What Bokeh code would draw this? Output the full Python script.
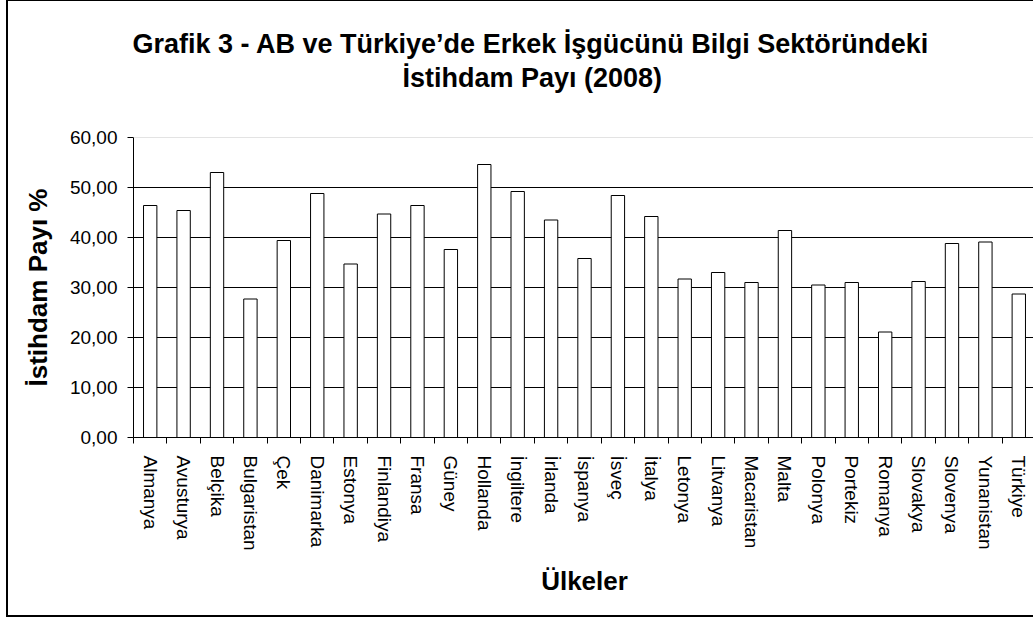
from bokeh.plotting import figure
from bokeh.models import (Range1d, FixedTicker, CustomJSTickFormatter, Span, Title,
                          LinearAxis, ColumnDataSource)
from bokeh.embed import file_html
from bokeh.resources import INLINE

countries = ["Almanya", "Avusturya", "Belçika", "Bulgaristan", "Çek", "Danimarka",
             "Estonya", "Finlandiya", "Fransa", "Güney", "Hollanda", "İngiltere",
             "İrlanda", "İspanya", "İsveç", "İtalya", "Letonya", "Litvanya",
             "Macaristan", "Malta", "Polonya", "Portekiz", "Romanya", "Slovakya",
             "Slovenya", "Yunanistan", "Türkiye"]
shares = [46.4, 45.4, 53.0, 27.7, 39.4, 48.8, 34.7, 44.7, 46.4, 37.6, 54.6, 49.2,
          43.5, 35.8, 48.4, 44.2, 31.7, 33.0, 31.0, 41.4, 30.5, 31.0, 21.1, 31.2,
          38.8, 39.1, 28.7]
y_ticks = [0, 10, 20, 30, 40, 50, 60]
title_lines = ["Grafik 3 - AB ve Türkiye’de Erkek İşgücünü Bilgi Sektöründeki",
               "İstihdam Payı (2008)"]
y_title = "İstihdam Payı %"
x_title = "Ülkeler"

FONT = "Liberation Sans"
n = len(countries)
pos = [i + 0.5 for i in range(n)]
src = ColumnDataSource(dict(x=pos, top=shares, name=countries))

p = figure(width=1027, height=617, output_backend="svg", toolbar_location=None,
           x_range=Range1d(0, n), y_range=Range1d(0, 60),
           min_border_left=125, min_border_right=0, min_border_top=136,
           min_border_bottom=181)
p.styles = {"margin-left": "6px", "border-left": "2px solid black",
            "border-top": "1px solid black", "border-bottom": "2px solid black"}
p.outline_line_color = None
p.background_fill_color = "white"
p.border_fill_color = "white"

p.vbar(x="x", top="top", bottom=0, width=0.4, source=src,
       fill_color="white", line_color="black", line_width=1)

# grid
p.xgrid.visible = False
p.ygrid.ticker = FixedTicker(ticks=y_ticks[1:-1])
p.ygrid.grid_line_color = "black"
p.ygrid.grid_line_width = 1
p.add_layout(Span(location=y_ticks[-1], dimension="width", line_color="#c8c8c8", line_width=1))

# x axis
xa = p.xaxis[0]
xa.ticker = FixedTicker(ticks=pos, minor_ticks=list(range(n + 1)))
xa.formatter = CustomJSTickFormatter(args=dict(names=countries),
                                     code="return names[Math.floor(tick)];")
xa.major_label_orientation = "vertical"
xa.major_tick_out = 0
xa.major_tick_in = 0
xa.minor_tick_out = 6
xa.minor_tick_in = 0
xa.minor_tick_line_color = "black"
xa.axis_line_color = "black"
xa.major_label_text_font = FONT
xa.major_label_text_font_size = "19px"
xa.major_label_text_color = "black"
xa.major_label_standoff = 12
xa.axis_label = x_title
xa.axis_label_text_font = FONT
xa.axis_label_text_font_size = "26px"
xa.axis_label_text_font_style = "bold"
xa.axis_label_text_color = "black"
xa.axis_label_standoff = 12

# y axis
ya = p.yaxis[0]
ya.ticker = FixedTicker(ticks=y_ticks)
ya.formatter = CustomJSTickFormatter(code="return tick.toFixed(2).replace('.', ',');")
ya.major_tick_out = 6
ya.major_tick_in = 0
ya.minor_tick_out = 0
ya.minor_tick_in = 0
ya.major_tick_line_color = "black"
ya.axis_line_color = "black"
ya.major_label_text_font = FONT
ya.major_label_text_font_size = "19px"
ya.major_label_text_color = "black"
ya.major_label_standoff = 10
ya.axis_label = y_title
ya.axis_label_text_font = FONT
ya.axis_label_text_font_size = "26px"
ya.axis_label_text_font_style = "bold"
ya.axis_label_text_color = "black"
ya.axis_label_standoff = 14

# invisible spacer between frame and title: one white tick at the frame's left edge
spacer = LinearAxis(ticker=FixedTicker(ticks=[0.02], minor_ticks=[]), major_tick_out=44,
                    major_tick_in=0, minor_tick_out=0, minor_tick_in=0,
                    axis_line_color=None, major_tick_line_color="white",
                    major_label_standoff=0, major_label_text_font_size="1px",
                    major_label_text_color="white",
                    formatter=CustomJSTickFormatter(code="return '';"))
p.add_layout(spacer, "above")

# title (two centered lines)
for txt, off in zip(reversed(title_lines), [269, -1]):
    p.add_layout(Title(text=txt, align="left", offset=off, standoff=2,
                       text_font=FONT, text_font_size="27px", text_font_style="bold",
                       text_color="black"), "above")

open("out.html", "w").write(file_html(p, INLINE))
